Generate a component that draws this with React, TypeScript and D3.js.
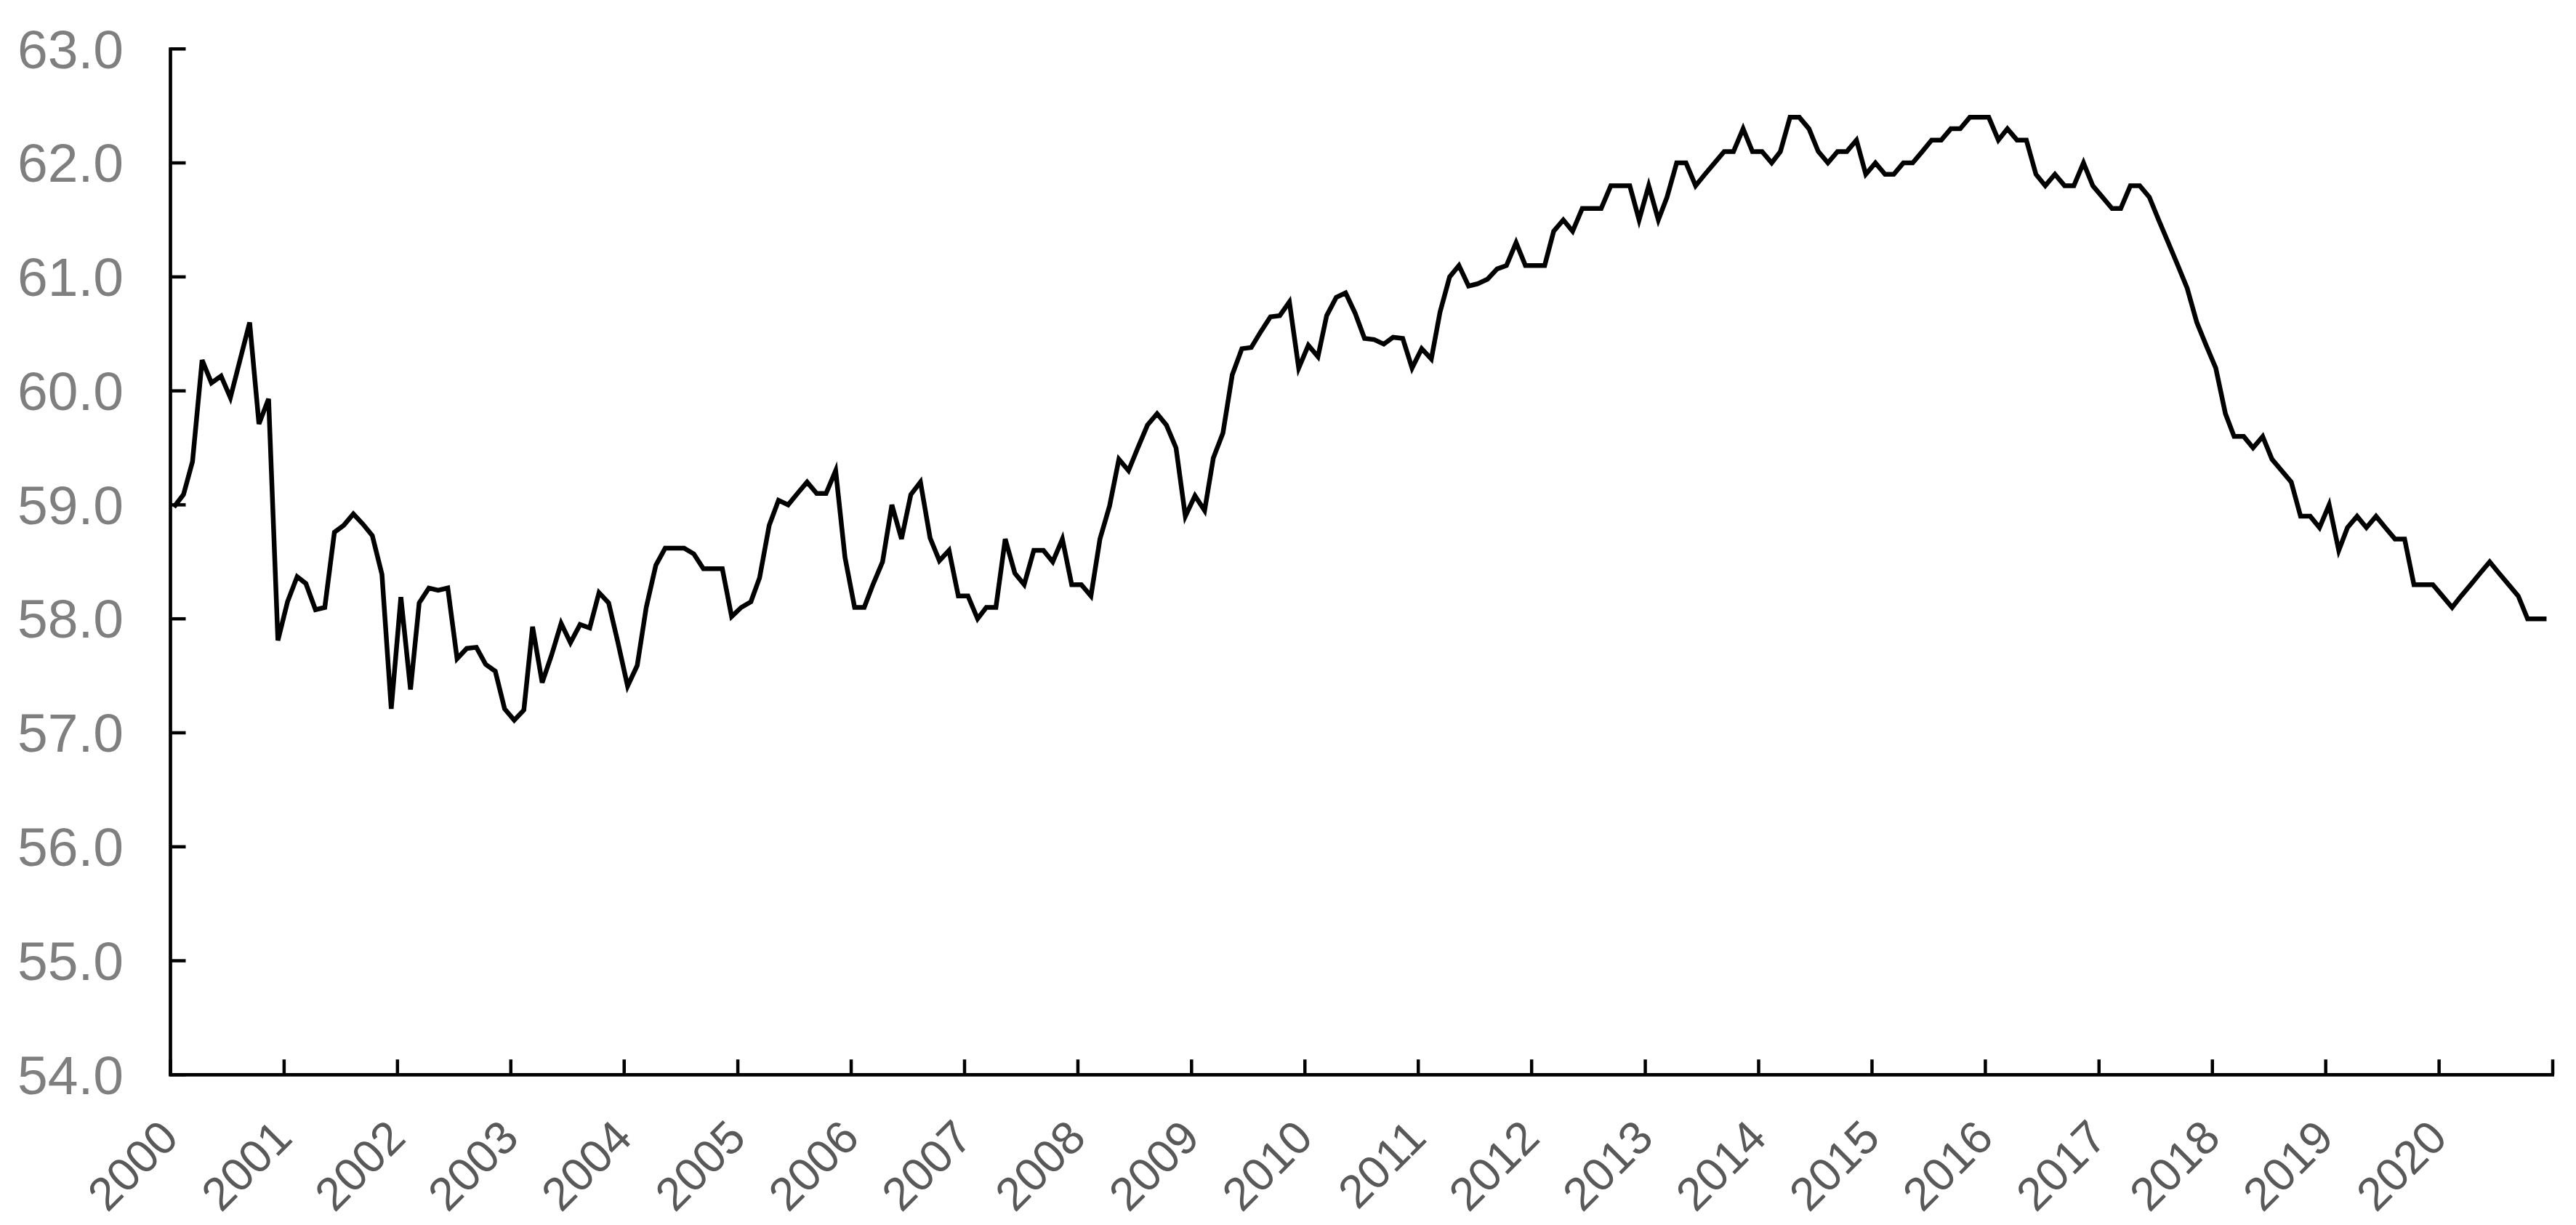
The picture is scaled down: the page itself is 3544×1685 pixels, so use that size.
import React from "react";
import * as d3 from "d3";

// monthly values (Jan..Dec per row)
const rate2000to2006 = [
  58.98, 59.09, 59.38, 60.27, 60.07, 60.13, 59.94, 60.27, 60.6, 59.71, 59.93, 57.81,
  58.15, 58.37, 58.31, 58.08, 58.1, 58.76, 58.82, 58.92, 58.83, 58.73, 58.39, 57.21,
  58.19, 57.38, 58.14, 58.27, 58.25, 58.27, 57.65, 57.74, 57.75, 57.6, 57.54, 57.21,
  57.11, 57.2, 57.93, 57.44, 57.68, 57.96, 57.79, 57.95, 57.92, 58.23, 58.14, 57.79,
  57.41, 57.59, 58.1, 58.47, 58.62, 58.62, 58.62, 58.57, 58.44, 58.44, 58.44, 58.02,
  58.1, 58.15, 58.36, 58.82, 59.04, 59.0, 59.1, 59.2, 59.1, 59.1, 59.3, 58.54,
  58.1, 58.1, 58.3, 58.5, 59.0, 58.7, 59.09, 59.2, 58.71, 58.51, 58.6, 58.2,
];
const rate2007to2013 = [
  58.2, 58.0, 58.1, 58.1, 58.7, 58.4, 58.3, 58.6, 58.6, 58.5, 58.7, 58.3,
  58.3, 58.2, 58.7, 58.99, 59.4, 59.3, 59.5, 59.7, 59.8, 59.7, 59.5, 58.9,
  59.08, 58.95, 59.41, 59.63, 60.14, 60.37, 60.38, 60.52, 60.65, 60.66, 60.78, 60.2,
  60.4, 60.3, 60.66, 60.82, 60.86, 60.68, 60.46, 60.45, 60.41, 60.47, 60.46, 60.2,
  60.37, 60.28, 60.69, 61.0, 61.1, 60.92, 60.94, 60.98, 61.07, 61.1, 61.3, 61.1,
  61.1, 61.1, 61.4, 61.5, 61.4, 61.6, 61.6, 61.6, 61.8, 61.8, 61.8, 61.5,
  61.8, 61.5, 61.7, 62.0, 62.0, 61.8, 61.9, 62.0, 62.1, 62.1, 62.3, 62.1,
];
const rate2014to2020 = [
  62.1, 62.0, 62.1, 62.4, 62.4, 62.3, 62.1, 62.0, 62.1, 62.1, 62.2, 61.9,
  62.0, 61.9, 61.9, 62.0, 62.0, 62.1, 62.2, 62.2, 62.3, 62.3, 62.4, 62.4,
  62.4, 62.2, 62.3, 62.2, 62.2, 61.9, 61.8, 61.9, 61.8, 61.8, 62.0, 61.8,
  61.7, 61.6, 61.6, 61.8, 61.8, 61.7, 61.5, 61.3, 61.1, 60.9, 60.6, 60.4,
  60.2, 59.8, 59.6, 59.6, 59.5, 59.6, 59.4, 59.3, 59.2, 58.9, 58.9, 58.8,
  59.0, 58.6, 58.8, 58.9, 58.8, 58.9, 58.8, 58.7, 58.7, 58.3, 58.3, 58.3,
  58.2, 58.1, 58.2, 58.3, 58.4, 58.5, 58.4, 58.3, 58.2, 58.0, 58.0, 58.0,
];

const startYear = 2000;
const yearLabels = d3.range(2000, 2021).map(String);
const yTicks = d3.range(54, 64, 1);

const W = 3544;
const H = 1685;
const margin = { top: 67.3, right: 32, bottom: 206.7, left: 234.5 };

export default function App() {
  const values = [...rate2000to2006, ...rate2007to2013, ...rate2014to2020];
  const data = values.map((v, i) => ({
    date: new Date(startYear + Math.floor(i / 12), i % 12, 12),
    value: v,
  }));

  const x = d3
    .scaleTime()
    .domain([new Date(2000, 0, 1), new Date(2021, 0, 1)])
    .range([margin.left, W - margin.right]);
  const y = d3
    .scaleLinear()
    .domain([54, 63])
    .range([H - margin.bottom, margin.top]);

  const line = d3
    .line<{ date: Date; value: number }>()
    .x((d) => x(d.date))
    .y((d) => y(d.value));

  const yearTicks = d3.range(2000, 2022).map((yr) => new Date(yr, 0, 1));
  const x0 = x.range()[0];
  const x1 = x.range()[1];
  const yBase = y(54);
  const tickLen = 21;

  return (
    <svg
      width={W}
      height={H}
      style={{ position: "absolute", left: 0, top: 0, background: "#fff" }}
      fontFamily="'Liberation Sans', Arial, sans-serif"
    >
      {/* y axis */}
      <line x1={x0} x2={x0} y1={y(63) - 2} y2={yBase + 2} stroke="#000" strokeWidth={4.7} />
      {yTicks.map((t) => (
        <g key={t}>
          <line x1={x0} x2={x0 + tickLen} y1={y(t)} y2={y(t)} stroke="#000" strokeWidth={4.5} />
          <text
            x={170}
            y={y(t)}
            dy="0.35em"
            textAnchor="end"
            fontSize={75}
            fill="#7f7f7f"
          >
            {t.toFixed(1)}
          </text>
        </g>
      ))}

      {/* x axis */}
      <line x1={x0 - 2} x2={x1 + 2} y1={yBase} y2={yBase} stroke="#000" strokeWidth={4.7} />
      {yearTicks.map((d, i) => (
        <line
          key={i}
          x1={x(d)}
          x2={x(d)}
          y1={yBase}
          y2={yBase - tickLen}
          stroke="#000"
          strokeWidth={4.5}
        />
      ))}
      {yearLabels.map((lab) => {
        const px = x(new Date(+lab, 0, 1));
        return (
          <text
            key={lab}
            transform={`translate(${px + 14},${yBase + 90}) rotate(-45)`}
            textAnchor="end"
            fontSize={64}
            fill="#595959"
          >
            {lab}
          </text>
        );
      })}

      {/* series */}
      <path
        d={line(data) || ""}
        fill="none"
        stroke="#000"
        strokeWidth={6.5}
        strokeLinejoin="miter"
        strokeLinecap="butt"
      />
    </svg>
  );
}
